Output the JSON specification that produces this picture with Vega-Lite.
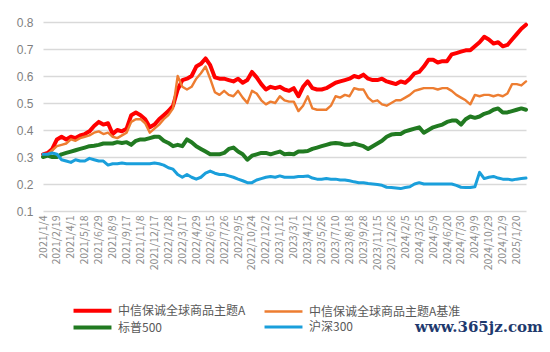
{
"$schema": "https://vega.github.io/schema/vega-lite/v6.json",
"width": 483, "height": 189,
"autosize": "none",
"padding": {"left": 43, "top": 22, "right": 24, "bottom": 141},
"background": "white",
"config": {"font": "Noto Sans CJK SC", "view": {"stroke": null}},
"title": {"text": "www.365jz.com", "orient": "bottom", "anchor": "end", "font": "DejaVu Serif", "fontSize": 15, "fontWeight": "bold", "color": "#1f3a6e", "offset": -16, "dx": 15},
"data": {"values": [
{"d":"2021/1/4","A":0.31,"B":0.31,"S":0.30,"H":0.31},
{"d":"2021/1/19","A":0.315,"B":0.31,"S":0.305,"H":0.31},
{"d":"2021/2/3","A":0.33,"B":0.325,"S":0.30,"H":0.315},
{"d":"2021/2/19","A":0.365,"B":0.34,"S":0.30,"H":0.31},
{"d":"2021/3/4","A":0.375,"B":0.345,"S":0.31,"H":0.29},
{"d":"2021/3/18","A":0.365,"B":0.35,"S":0.315,"H":0.285},
{"d":"2021/4/1","A":0.375,"B":0.365,"S":0.32,"H":0.28},
{"d":"2021/4/16","A":0.37,"B":0.36,"S":0.325,"H":0.29},
{"d":"2021/4/30","A":0.38,"B":0.37,"S":0.33,"H":0.285},
{"d":"2021/5/18","A":0.385,"B":0.375,"S":0.335,"H":0.285},
{"d":"2021/6/1","A":0.395,"B":0.38,"S":0.34,"H":0.295},
{"d":"2021/6/15","A":0.415,"B":0.39,"S":0.342,"H":0.29},
{"d":"2021/6/29","A":0.43,"B":0.395,"S":0.345,"H":0.285},
{"d":"2021/7/13","A":0.42,"B":0.385,"S":0.35,"H":0.285},
{"d":"2021/7/26","A":0.425,"B":0.39,"S":0.35,"H":0.27},
{"d":"2021/8/9","A":0.385,"B":0.375,"S":0.35,"H":0.275},
{"d":"2021/8/23","A":0.40,"B":0.37,"S":0.355,"H":0.275},
{"d":"2021/9/3","A":0.395,"B":0.38,"S":0.352,"H":0.278},
{"d":"2021/9/17","A":0.405,"B":0.39,"S":0.355,"H":0.275},
{"d":"2021/10/12","A":0.455,"B":0.43,"S":0.345,"H":0.275},
{"d":"2021/10/25","A":0.465,"B":0.44,"S":0.36,"H":0.275},
{"d":"2021/11/8","A":0.455,"B":0.44,"S":0.365,"H":0.275},
{"d":"2021/11/22","A":0.44,"B":0.425,"S":0.365,"H":0.275},
{"d":"2021/12/3","A":0.41,"B":0.39,"S":0.37,"H":0.275},
{"d":"2021/12/17","A":0.42,"B":0.405,"S":0.375,"H":0.278},
{"d":"2021/12/31","A":0.44,"B":0.42,"S":0.375,"H":0.275},
{"d":"2022/1/14","A":0.455,"B":0.44,"S":0.36,"H":0.27},
{"d":"2022/1/28","A":0.47,"B":0.455,"S":0.352,"H":0.26},
{"d":"2022/2/18","A":0.49,"B":0.48,"S":0.34,"H":0.255},
{"d":"2022/3/3","A":0.55,"B":0.60,"S":0.345,"H":0.235},
{"d":"2022/3/17","A":0.585,"B":0.56,"S":0.34,"H":0.225},
{"d":"2022/3/31","A":0.59,"B":0.55,"S":0.365,"H":0.235},
{"d":"2022/4/15","A":0.60,"B":0.56,"S":0.355,"H":0.225},
{"d":"2022/4/29","A":0.635,"B":0.59,"S":0.34,"H":0.218},
{"d":"2022/5/18","A":0.645,"B":0.61,"S":0.33,"H":0.225},
{"d":"2022/6/1","A":0.665,"B":0.635,"S":0.32,"H":0.24},
{"d":"2022/6/15","A":0.64,"B":0.59,"S":0.31,"H":0.248},
{"d":"2022/6/29","A":0.595,"B":0.54,"S":0.31,"H":0.24},
{"d":"2022/7/12","A":0.59,"B":0.53,"S":0.31,"H":0.235},
{"d":"2022/7/26","A":0.59,"B":0.545,"S":0.315,"H":0.235},
{"d":"2022/8/9","A":0.585,"B":0.53,"S":0.33,"H":0.23},
{"d":"2022/8/22","A":0.58,"B":0.525,"S":0.335,"H":0.225},
{"d":"2022/9/5","A":0.59,"B":0.545,"S":0.32,"H":0.218},
{"d":"2022/9/20","A":0.575,"B":0.52,"S":0.31,"H":0.212},
{"d":"2022/10/10","A":0.585,"B":0.50,"S":0.29,"H":0.205},
{"d":"2022/10/24","A":0.615,"B":0.545,"S":0.305,"H":0.205},
{"d":"2022/11/7","A":0.595,"B":0.535,"S":0.31,"H":0.215},
{"d":"2022/11/18","A":0.57,"B":0.51,"S":0.315,"H":0.22},
{"d":"2022/12/2","A":0.55,"B":0.495,"S":0.315,"H":0.225},
{"d":"2022/12/16","A":0.56,"B":0.505,"S":0.31,"H":0.228},
{"d":"2022/12/29","A":0.555,"B":0.50,"S":0.315,"H":0.225},
{"d":"2023/1/12","A":0.56,"B":0.525,"S":0.32,"H":0.23},
{"d":"2023/2/2","A":0.55,"B":0.51,"S":0.31,"H":0.225},
{"d":"2023/2/15","A":0.545,"B":0.505,"S":0.312,"H":0.225},
{"d":"2023/3/1","A":0.555,"B":0.505,"S":0.31,"H":0.225},
{"d":"2023/3/15","A":0.525,"B":0.47,"S":0.32,"H":0.228},
{"d":"2023/3/29","A":0.56,"B":0.49,"S":0.32,"H":0.228},
{"d":"2023/4/12","A":0.58,"B":0.525,"S":0.322,"H":0.23},
{"d":"2023/4/26","A":0.555,"B":0.48,"S":0.33,"H":0.222},
{"d":"2023/5/12","A":0.55,"B":0.475,"S":0.335,"H":0.218},
{"d":"2023/5/26","A":0.55,"B":0.475,"S":0.34,"H":0.218},
{"d":"2023/6/12","A":0.555,"B":0.475,"S":0.345,"H":0.22},
{"d":"2023/6/27","A":0.565,"B":0.49,"S":0.35,"H":0.218},
{"d":"2023/7/10","A":0.575,"B":0.525,"S":0.352,"H":0.218},
{"d":"2023/7/24","A":0.58,"B":0.52,"S":0.35,"H":0.215},
{"d":"2023/8/4","A":0.585,"B":0.53,"S":0.345,"H":0.215},
{"d":"2023/8/18","A":0.59,"B":0.525,"S":0.345,"H":0.212},
{"d":"2023/9/1","A":0.60,"B":0.555,"S":0.35,"H":0.208},
{"d":"2023/9/14","A":0.595,"B":0.55,"S":0.345,"H":0.205},
{"d":"2023/9/28","A":0.605,"B":0.55,"S":0.34,"H":0.205},
{"d":"2023/10/20","A":0.59,"B":0.52,"S":0.33,"H":0.202},
{"d":"2023/11/2","A":0.585,"B":0.505,"S":0.34,"H":0.20},
{"d":"2023/11/15","A":0.585,"B":0.51,"S":0.35,"H":0.198},
{"d":"2023/11/29","A":0.59,"B":0.495,"S":0.36,"H":0.195},
{"d":"2023/12/12","A":0.58,"B":0.49,"S":0.375,"H":0.188},
{"d":"2023/12/26","A":0.575,"B":0.50,"S":0.383,"H":0.187},
{"d":"2024/1/9","A":0.57,"B":0.51,"S":0.385,"H":0.185},
{"d":"2024/1/22","A":0.58,"B":0.51,"S":0.385,"H":0.183},
{"d":"2024/2/5","A":0.575,"B":0.52,"S":0.395,"H":0.187},
{"d":"2024/2/29","A":0.59,"B":0.53,"S":0.40,"H":0.19},
{"d":"2024/3/13","A":0.61,"B":0.545,"S":0.405,"H":0.20},
{"d":"2024/3/25","A":0.615,"B":0.55,"S":0.41,"H":0.205},
{"d":"2024/4/9","A":0.635,"B":0.555,"S":0.39,"H":0.20},
{"d":"2024/4/23","A":0.66,"B":0.555,"S":0.40,"H":0.20},
{"d":"2024/5/9","A":0.66,"B":0.555,"S":0.41,"H":0.20},
{"d":"2024/5/23","A":0.65,"B":0.55,"S":0.415,"H":0.20},
{"d":"2024/6/5","A":0.655,"B":0.555,"S":0.42,"H":0.20},
{"d":"2024/6/20","A":0.655,"B":0.555,"S":0.43,"H":0.20},
{"d":"2024/7/3","A":0.68,"B":0.545,"S":0.435,"H":0.20},
{"d":"2024/7/16","A":0.685,"B":0.53,"S":0.435,"H":0.195},
{"d":"2024/7/30","A":0.69,"B":0.52,"S":0.42,"H":0.188},
{"d":"2024/8/13","A":0.695,"B":0.51,"S":0.44,"H":0.187},
{"d":"2024/8/26","A":0.695,"B":0.495,"S":0.45,"H":0.187},
{"d":"2024/9/9","A":0.71,"B":0.53,"S":0.445,"H":0.19},
{"d":"2024/9/25","A":0.725,"B":0.525,"S":0.45,"H":0.243},
{"d":"2024/10/15","A":0.745,"B":0.53,"S":0.46,"H":0.22},
{"d":"2024/10/29","A":0.735,"B":0.53,"S":0.465,"H":0.225},
{"d":"2024/11/12","A":0.72,"B":0.525,"S":0.475,"H":0.228},
{"d":"2024/11/25","A":0.725,"B":0.53,"S":0.48,"H":0.222},
{"d":"2024/12/9","A":0.71,"B":0.525,"S":0.465,"H":0.218},
{"d":"2024/12/20","A":0.715,"B":0.535,"S":0.465,"H":0.218},
{"d":"2025/1/7","A":0.735,"B":0.57,"S":0.47,"H":0.215},
{"d":"2025/1/20","A":0.755,"B":0.57,"S":0.475,"H":0.218},
{"d":"2025/2/7","A":0.775,"B":0.565,"S":0.48,"H":0.22},
{"d":"2025/2/20","A":0.79,"B":0.58,"S":0.475,"H":0.222}
]},
"transform": [{"fold": ["A", "B", "S", "H"], "as": ["series", "value"]}],
"mark": {"type": "line", "strokeJoin": "round", "strokeCap": "round"},
"encoding": {
  "x": {"field": "d", "type": "ordinal", "sort": null,
    "scale": {"type": "point", "padding": 0},
    "axis": {"values": ["2021/1/4","2021/2/19","2021/4/1","2021/5/18","2021/6/29","2021/8/9","2021/9/17","2021/11/8","2021/12/17","2022/1/28","2022/3/17","2022/4/29","2022/6/15","2022/7/26","2022/9/5","2022/10/24","2022/12/2","2023/1/12","2023/3/1","2023/4/12","2023/5/26","2023/7/10","2023/8/18","2023/9/28","2023/11/15","2023/12/26","2024/2/5","2024/3/25","2024/5/9","2024/6/20","2024/7/30","2024/9/9","2024/10/29","2024/12/9","2025/1/20"],
      "labelAngle": -90, "labelFontSize": 10.5, "labelColor": "#8c8c8c", "labelFont": "Noto Sans CJK SC",
      "ticks": false, "domain": false, "grid": false, "title": null, "labelPadding": 4}},
  "y": {"field": "value", "type": "quantitative",
    "scale": {"domain": [0.1, 0.8], "nice": false, "zero": false},
    "axis": {"values": [0.1, 0.2, 0.3, 0.4, 0.5, 0.6, 0.7, 0.8], "format": ".1f", "grid": true, "gridColor": "#d9d9d9", "gridWidth": 1.5,
      "domain": false, "ticks": false, "labelColor": "#7f7f7f", "labelFontSize": 12, "labelFont": "Liberation Sans", "labelPadding": 10, "title": null}},
  "color": {"field": "series", "type": "nominal",
    "scale": {"domain": ["A", "B", "S", "H"], "range": ["#ff0000", "#ed7d31", "#217a21", "#1a9fdb"]},
    "legend": {"orient": "none", "legendX": 41, "legendY": 280, "columns": 2, "direction": "horizontal", "title": null,
      "symbolType": "M-3,0H3", "symbolSize": 160, "symbolStrokeWidth": 3.5, "labelFontSize": 12, "labelColor": "#595959",
      "columnPadding": 12, "rowPadding": -2, "labelOffset": 17, "labelLimit": 300,
      "labelExpr": "{'A':'中信保诚全球商品主题A','B':'中信保诚全球商品主题A基准','S':'标普500','H':'沪深300'}[datum.label]"}},
  "strokeWidth": {"field": "series", "type": "nominal",
    "scale": {"type": "ordinal", "domain": ["A", "B", "S", "H"], "range": [4, 2.4, 4, 3]}, "legend": null}
}
}
